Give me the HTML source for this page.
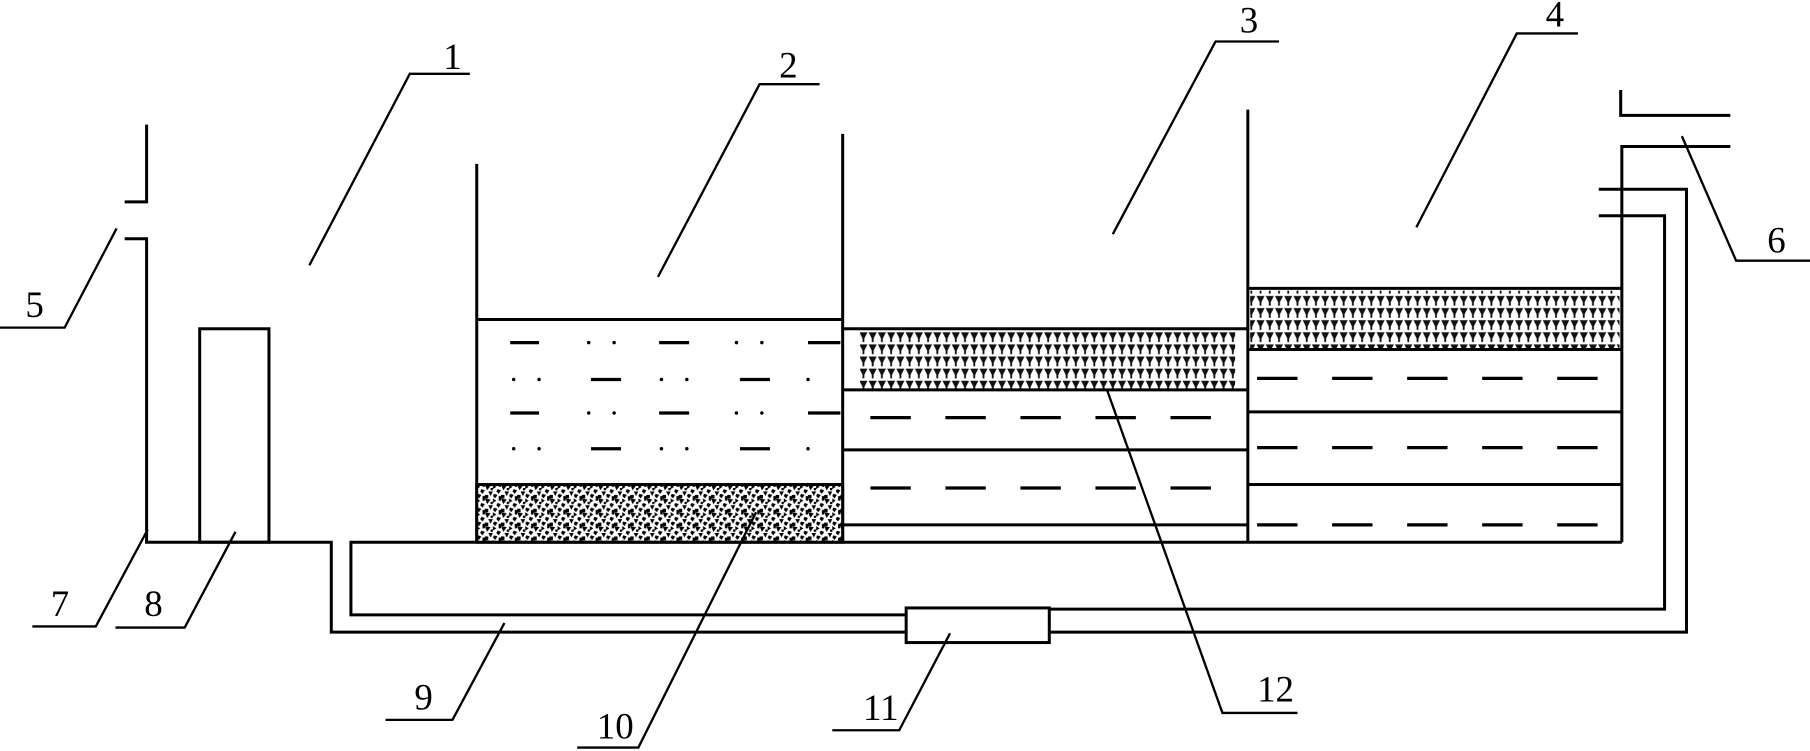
<!DOCTYPE html>
<html><head><meta charset="utf-8"><style>
html,body{margin:0;padding:0;background:#fff;}
svg{display:block;}
text{font-family:"Liberation Serif",serif;font-size:32px;fill:#000;text-anchor:middle;}
</style></head><body>
<svg width="1810" height="751" viewBox="0 0 1568 651" preserveAspectRatio="none" xmlns="http://www.w3.org/2000/svg">
<defs>
<pattern id="sand" width="14" height="12" patternUnits="userSpaceOnUse">
<rect width="14" height="12" fill="#fff"/>
<polygon points="0,0 5,1 2,5" fill="#000"/>
<polygon points="7,0 10,2 7,4" fill="#000"/>
<polygon points="11,4 14,5 12,8 10,6" fill="#000"/>
<polygon points="3,6 7,6 5,10" fill="#000"/>
<polygon points="8,8 11,9 9,12 7,10" fill="#000"/>
<rect x="0" y="9" width="3" height="3" fill="#000"/>
<rect x="12" y="0" width="2" height="2" fill="#000"/>
<rect x="5" y="3" width="2" height="2" fill="#000"/>
<rect x="12" y="10" width="2" height="2" fill="#000"/>
</pattern>
<pattern id="tri" width="8" height="10.5" patternUnits="userSpaceOnUse" x="0" y="287">
<rect width="8" height="10.5" fill="#fff"/>
<polygon points="0.5,1 7.5,1 4,8" fill="#111"/>
<rect x="3.2" y="6" width="1.6" height="3.5" fill="#111"/>
</pattern>
</defs>
<rect x="745" y="287" width="325" height="50" fill="url(#tri)"/>
<rect x="1083" y="252" width="320" height="50" fill="url(#tri)"/>
<g stroke="#000" stroke-width="2.6" fill="none">
<polyline points="127,108 127,175 108,175"/>
<polyline points="108,207 127,207 127,470 287,470 287,548 785,548"/>
<rect x="785" y="527" width="124" height="30" fill="#fff"/>
<polyline points="909,548 1461,548 1461,164 1385,164"/>
<polyline points="1385,187 1442,187 1442,528 909,528"/>
<polyline points="785,533 304,533 304,470 1405,470"/>
<rect x="173" y="285" width="60" height="185"/>
<line x1="413" y1="142" x2="413" y2="470"/>
<line x1="730" y1="116" x2="730" y2="470"/>
<line x1="413" y1="277" x2="730" y2="277"/>
<rect x="413" y="420" width="317" height="50" fill="url(#sand)"/>
<line x1="1081" y1="95" x2="1081" y2="470"/>
<line x1="730" y1="285" x2="1081" y2="285"/>
<line x1="730" y1="338" x2="1081" y2="338"/>
<line x1="730" y1="390" x2="1081" y2="390"/>
<line x1="730" y1="455" x2="1081" y2="455"/>
<line x1="1081" y1="250" x2="1405" y2="250"/>
<line x1="1081" y1="303" x2="1405" y2="303"/>
<line x1="1081" y1="357" x2="1405" y2="357"/>
<line x1="1081" y1="420" x2="1405" y2="420"/>
<polyline points="1404,78 1404,100 1499,100"/>
<polyline points="1499,127 1405,127 1405,470"/>
</g>
<g stroke="#000" stroke-width="2.8">
<line x1="442" y1="297" x2="467" y2="297"/><line x1="571" y1="297" x2="597" y2="297"/><line x1="700" y1="297" x2="728" y2="297"/>
<line x1="512" y1="329" x2="538" y2="329"/><line x1="641" y1="329" x2="667" y2="329"/>
<line x1="442" y1="358" x2="467" y2="358"/><line x1="571" y1="358" x2="597" y2="358"/><line x1="700" y1="358" x2="728" y2="358"/>
<line x1="512" y1="389" x2="538" y2="389"/><line x1="641" y1="389" x2="667" y2="389"/>
<g stroke-dasharray="35 30">
<line x1="754" y1="362" x2="1049" y2="362"/>
<line x1="754" y1="423" x2="1049" y2="423"/>
<line x1="1089" y1="328" x2="1384" y2="328"/>
<line x1="1089" y1="388" x2="1384" y2="388"/>
<line x1="1089" y1="455" x2="1384" y2="455"/>
</g>
</g>
<g fill="#000">
<circle cx="510" cy="297" r="1.5"/><circle cx="532" cy="297" r="1.5"/><circle cx="638" cy="297" r="1.5"/><circle cx="660" cy="297" r="1.5"/>
<circle cx="445" cy="329" r="1.5"/><circle cx="467" cy="329" r="1.5"/><circle cx="573" cy="329" r="1.5"/><circle cx="595" cy="329" r="1.5"/><circle cx="700" cy="329" r="1.5"/>
<circle cx="510" cy="358" r="1.5"/><circle cx="532" cy="358" r="1.5"/><circle cx="638" cy="358" r="1.5"/><circle cx="660" cy="358" r="1.5"/>
<circle cx="445" cy="389" r="1.5"/><circle cx="467" cy="389" r="1.5"/><circle cx="573" cy="389" r="1.5"/><circle cx="595" cy="389" r="1.5"/><circle cx="700" cy="389" r="1.5"/>
</g>
<g stroke="#000" stroke-width="2" fill="none">
<polyline points="407,64 355,64 268,230"/>
<polyline points="710,73 658,73 570,240"/>
<polyline points="1108,36 1053,36 964,203"/>
<polyline points="1367,29 1314,29 1227,197"/>
<polyline points="0,284 56,284 101,198"/>
<polyline points="1568,226 1504,226 1457,118"/>
<polyline points="28,543 83,543 128,459"/>
<polyline points="100,544 160,544 204,461"/>
<polyline points="334,624 392,624 437,540"/>
<polyline points="500,648 553,648 655,444"/>
<polyline points="721,633 779,633 823,549"/>
<polyline points="1124,618 1059,618 959,338"/>
</g>
<text x="392" y="60">1</text>
<text x="683" y="67">2</text>
<text x="1082" y="28">3</text>
<text x="1347" y="23">4</text>
<text x="30" y="275">5</text>
<text x="1539" y="219">6</text>
<text x="52" y="534">7</text>
<text x="133" y="534">8</text>
<text x="367" y="615">9</text>
<text x="533" y="640">10</text>
<text x="763" y="624">11</text>
<text x="1105" y="608">12</text>
</svg>
</body></html>
